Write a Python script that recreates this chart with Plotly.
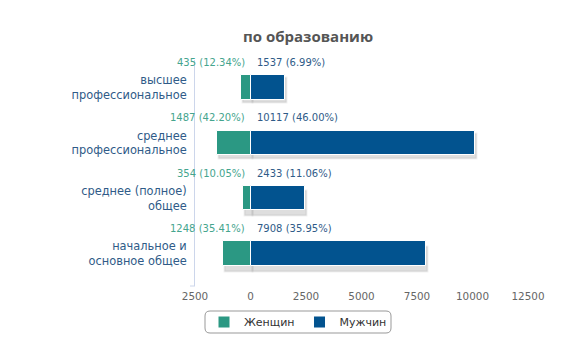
import plotly.graph_objects as go

categories = ["высшее<br>профессиональное", "среднее<br>профессиональное",
              "среднее (полное)<br>общее", "начальное и<br>основное общее"]
women = [435, 1487, 354, 1248]
men = [1537, 10117, 2433, 7908]
women_pct = [12.34, 42.20, 10.05, 35.41]
men_pct = [6.99, 46.00, 11.06, 35.95]
tick_vals = [-2500, 0, 2500, 5000, 7500, 10000, 12500]
tick_text = ["2500", "0", "2500", "5000", "7500", "10000", "12500"]

W, H = 575, 352
L, R, T, B = 195, 47, 60, 66
FONT = "DejaVu Sans"
C_W = "#2b9883"
C_M = "#02538f"
BW = 0.44

women_neg = [-v for v in women]

# shadow subplot offset (pixels)
dx, dy = 1.5 / W, 1.5 / H
pw = (W - L - R) / W
x0 = L / W
ph = (H - T - B) / H
y0 = B / H

fig = go.Figure()
shadow = dict(color="rgba(0,0,0,0.13)", line=dict(color="rgba(0,0,0,0.06)", width=2))
fig.add_trace(go.Bar(y=categories, x=women_neg, orientation="h", marker=shadow,
                     width=BW, showlegend=False, hoverinfo="skip", xaxis="x", yaxis="y"))
fig.add_trace(go.Bar(y=categories, x=men, orientation="h", marker=shadow,
                     width=BW, showlegend=False, hoverinfo="skip", xaxis="x", yaxis="y"))

fig.add_trace(go.Bar(y=categories, x=women_neg, orientation="h", name="Женщин",
                     marker=dict(color=C_W, line=dict(color="white", width=1)),
                     width=BW, xaxis="x2", yaxis="y2"))
fig.add_trace(go.Bar(y=categories, x=men, orientation="h", name="Мужчин",
                     marker=dict(color=C_M, line=dict(color="white", width=1)),
                     width=BW, xaxis="x2", yaxis="y2"))

for c, w, wp, m, mp in zip(categories, women, women_pct, men, men_pct):
    fig.add_annotation(x=0, y=c, xref="x2", yref="y2", text=f"{w} ({wp:.2f}%)",
                       showarrow=False, xanchor="right", xshift=-4, yshift=25,
                       font=dict(family=FONT, size=10, color="#45a58e"))
    fig.add_annotation(x=0, y=c, xref="x2", yref="y2", text=f"{m} ({mp:.2f}%)",
                       showarrow=False, xanchor="left", xshift=4, yshift=25,
                       font=dict(family=FONT, size=10, color="#2f5b88"))

# rounded legend frame
lx0, lx1, ly0, ly1, rr = 205 / W, 391 / W, 1 - 333 / H, 1 - 311 / H, 5
rx, ry = rr / W, rr / H
path = (f"M {lx0+rx},{ly0} L {lx1-rx},{ly0} Q {lx1},{ly0} {lx1},{ly0+ry} "
        f"L {lx1},{ly1-ry} Q {lx1},{ly1} {lx1-rx},{ly1} L {lx0+rx},{ly1} "
        f"Q {lx0},{ly1} {lx0},{ly1-ry} L {lx0},{ly0+ry} Q {lx0},{ly0} {lx0+rx},{ly0} Z")
fig.add_shape(type="path", path=path, xref="paper", yref="paper",
              line=dict(color="#999999", width=1), fillcolor="rgba(0,0,0,0)", layer="above")
# small end tick at the bottom of the category axis
fig.add_shape(type="line", xref="paper", yref="paper", x0=x0 - 5 / W, x1=x0,
              y0=y0, y1=y0, line=dict(color="#ccd6eb", width=1))

fig.update_layout(
    width=W, height=H,
    margin=dict(l=0, r=0, t=0, b=0, autoexpand=False),
    paper_bgcolor="white", plot_bgcolor="rgba(0,0,0,0)",
    barmode="relative", bargap=0,
    title=dict(text="<b>по образованию</b>", x=308 / W, xanchor="center",
               y=1 - 37 / H, yanchor="middle", automargin=False,
               font=dict(family="Open Sans", size=15, color="#555555")),
    xaxis=dict(domain=[x0 + dx, x0 + pw + dx], range=[-2500, 12500], anchor="y",
               visible=False, fixedrange=True, automargin=False),
    yaxis=dict(domain=[y0 - dy, y0 + ph - dy], anchor="x", autorange="reversed",
               visible=False, type="category", categoryorder="array",
               categoryarray=categories, automargin=False),
    xaxis2=dict(domain=[x0, x0 + pw], range=[-2500, 12500], anchor="y2",
                tickvals=tick_vals, ticktext=tick_text, showgrid=False, zeroline=False,
                showline=False, ticks="", ticklabelstandoff=3, automargin=False,
                tickfont=dict(family=FONT, size=10.4, color="#666666")),
    yaxis2=dict(domain=[y0, y0 + ph], anchor="x2", autorange="reversed",
                type="category", categoryorder="array", categoryarray=categories,
                showgrid=False, zeroline=False, showline=True, linecolor="#ccd6eb",
                linewidth=1, ticks="", ticklabelstandoff=5, automargin=False,
                tickfont=dict(family=FONT, size=11.4, color="#2f5b88")),
    legend=dict(orientation="h", x=298 / W, xref="container", xanchor="center",
                y=1 - 322 / H, yref="container", yanchor="middle",
                itemwidth=30, tracegroupgap=0,
                borderwidth=0, bgcolor="rgba(0,0,0,0)",
                font=dict(family=FONT, size=11, color="#333333")),
    showlegend=True,
)

fig.write_html("out.html", post_script="document.body.style.margin='0';",
               config={"displayModeBar": False})
